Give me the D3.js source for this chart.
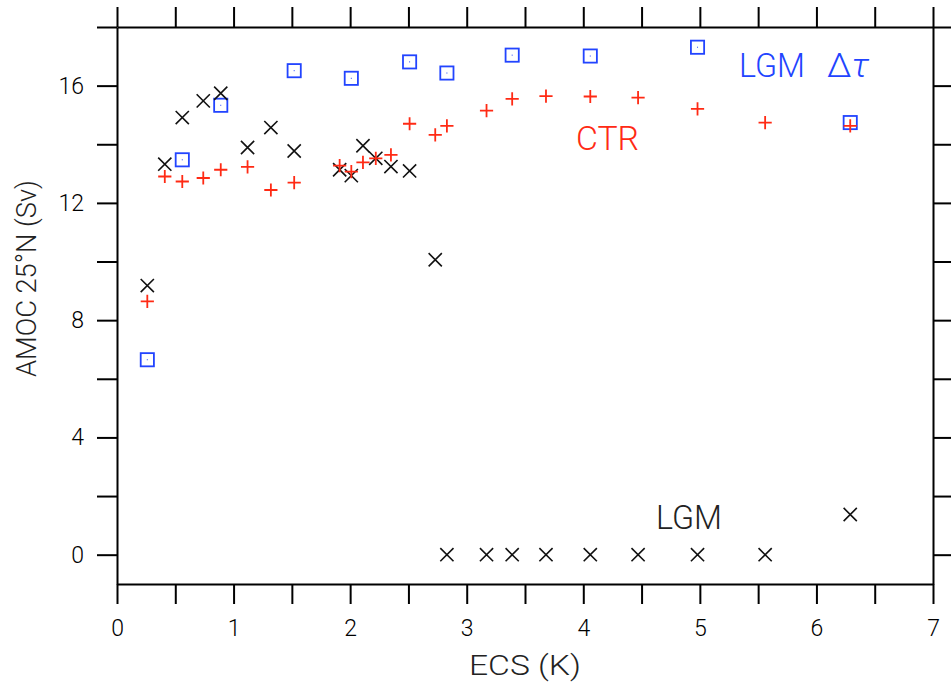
<!DOCTYPE html>
<html>
<head>
<meta charset="utf-8">
<script src="https://cdn.jsdelivr.net/npm/d3@7"></script>
<style>
body{margin:0;background:#fff;}
svg text{font-family:Roboto,"Liberation Sans",Arial,sans-serif;font-weight:300;}
</style>
</head>
<body>
<div id="chart"></div>
<script>
// ECS of each model (K)
var ecs = [0.26,0.41,0.56,0.74,0.89,1.12,1.32,1.52,1.91,2.01,2.11,2.22,2.35,2.51,2.73,2.83,3.17,3.39,3.68,4.06,4.47,4.98,5.56,6.29];
// AMOC at 25N (Sv)
var ctr = [8.64,12.9,12.73,12.85,13.13,13.23,12.44,12.69,13.27,13.07,13.38,13.52,13.64,14.70,14.32,14.63,15.15,15.55,15.64,15.63,15.59,15.21,14.74,14.63];
var lgm = [9.18,13.32,14.91,15.48,15.74,13.89,14.57,13.77,13.13,12.93,13.95,13.52,13.24,13.09,10.06,0,0,0,0,0,0,0,0,1.37];
// LGM with delta tau, subset of models
var dtEcs = [0.26,0.56,0.89,1.52,2.01,2.51,2.83,3.39,4.06,4.98,6.29];
var dtAmoc = [6.65,13.47,15.33,16.51,16.25,16.81,16.43,17.04,17.01,17.31,14.74];
var xTicks = d3.range(0,7.01,0.5);
var yTicks = d3.range(0,18.01,2);

var red = "#ff2a14", blue = "#2244ff";
var width = 951, height = 686;
var svg = d3.select("#chart").append("svg")
	.attr("width",width)
	.attr("height",height);

var x = d3.scaleLinear().domain([0,7]).range([117,933]);
var y = d3.scaleLinear().domain([-1,18]).range([584,27]);

function styleAxis(g){
	g.selectAll("path").attr("stroke","#000").attr("stroke-width",2);
	g.selectAll("line").attr("stroke","#000").attr("stroke-width",2);
	g.selectAll("text").attr("font-size",23).attr("fill","#000");
}
//axes
svg.append("g")
	.attr("transform","translate(0,584)")
	.call(d3.axisBottom(x).tickValues(xTicks).tickSize(20).tickSizeOuter(0).tickPadding(16)
		.tickFormat(function(d){ return Number.isInteger(d) ? d : ""; }))
	.call(styleAxis);
svg.append("g")
	.attr("transform","translate(0,27)")
	.call(d3.axisTop(x).tickValues(xTicks).tickSize(20).tickSizeOuter(0).tickFormat(""))
	.call(styleAxis);
svg.append("g")
	.attr("transform","translate(117,0)")
	.call(d3.axisLeft(y).tickValues(yTicks).tickSize(20).tickSizeOuter(0).tickPadding(13)
		.tickFormat(function(d){ return d%4===0 ? d : ""; }))
	.call(styleAxis);
svg.append("g")
	.attr("transform","translate(933,0)")
	.call(d3.axisRight(y).tickValues(yTicks).tickSize(20).tickSizeOuter(0).tickFormat(""))
	.call(styleAxis);

//axis titles
svg.append("text")
	.attr("x",469).attr("y",675)
	.attr("font-size",28)
	.attr("fill","#222")
	.attr("textLength",112)
	.attr("lengthAdjust","spacingAndGlyphs")
	.text("ECS (K)");
svg.append("text")
	.attr("transform","translate(36,377) rotate(-90)")
	.attr("font-size",28)
	.attr("fill","#222")
	.attr("textLength",197)
	.attr("lengthAdjust","spacingAndGlyphs")
	.text("AMOC 25°N (Sv)");

//markers
var s = 6.6;
var dt = svg.append("g").selectAll("g").data(dtEcs).enter().append("g")
	.attr("transform",function(d,i){ return "translate("+x(d)+","+y(dtAmoc[i])+")"; });
dt.append("rect")
	.attr("x",-s).attr("y",-s).attr("width",2*s).attr("height",2*s)
	.attr("fill","none").attr("stroke",blue).attr("stroke-width",1.8);
dt.append("rect")
	.attr("x",-0.5).attr("y",-0.5).attr("width",1).attr("height",1)
	.attr("fill",blue);

svg.append("g").selectAll("path").data(ecs).enter().append("path")
	.attr("d","M"+(-s)+","+(-s)+"L"+s+","+s+"M"+(-s)+","+s+"L"+s+","+(-s))
	.attr("transform",function(d,i){ return "translate("+x(d)+","+y(lgm[i])+")"; })
	.attr("stroke","#111").attr("stroke-width",1.6).attr("fill","none");

svg.append("g").selectAll("path").data(ecs).enter().append("path")
	.attr("d","M"+(-s)+",0H"+s+"M0,"+(-s)+"V"+s)
	.attr("transform",function(d,i){ return "translate("+x(d)+","+y(ctr[i])+")"; })
	.attr("stroke",red).attr("stroke-width",1.8).attr("fill","none");

//labels
svg.append("text").attr("x",739).attr("y",77).attr("font-size",33).attr("fill",blue)
	.attr("textLength",66).attr("lengthAdjust","spacingAndGlyphs").text("LGM");
svg.append("text").attr("x",827).attr("y",77).attr("font-size",33).attr("fill",blue)
	.attr("textLength",42).attr("lengthAdjust","spacingAndGlyphs")
	.html('Δ<tspan font-style="italic">τ</tspan>');
svg.append("text").attr("x",576).attr("y",150).attr("font-size",33).attr("fill",red)
	.attr("textLength",63).attr("lengthAdjust","spacingAndGlyphs").text("CTR");
svg.append("text").attr("x",656).attr("y",529).attr("font-size",33).attr("fill","#222")
	.attr("textLength",66).attr("lengthAdjust","spacingAndGlyphs").text("LGM");
</script>
</body>
</html>
